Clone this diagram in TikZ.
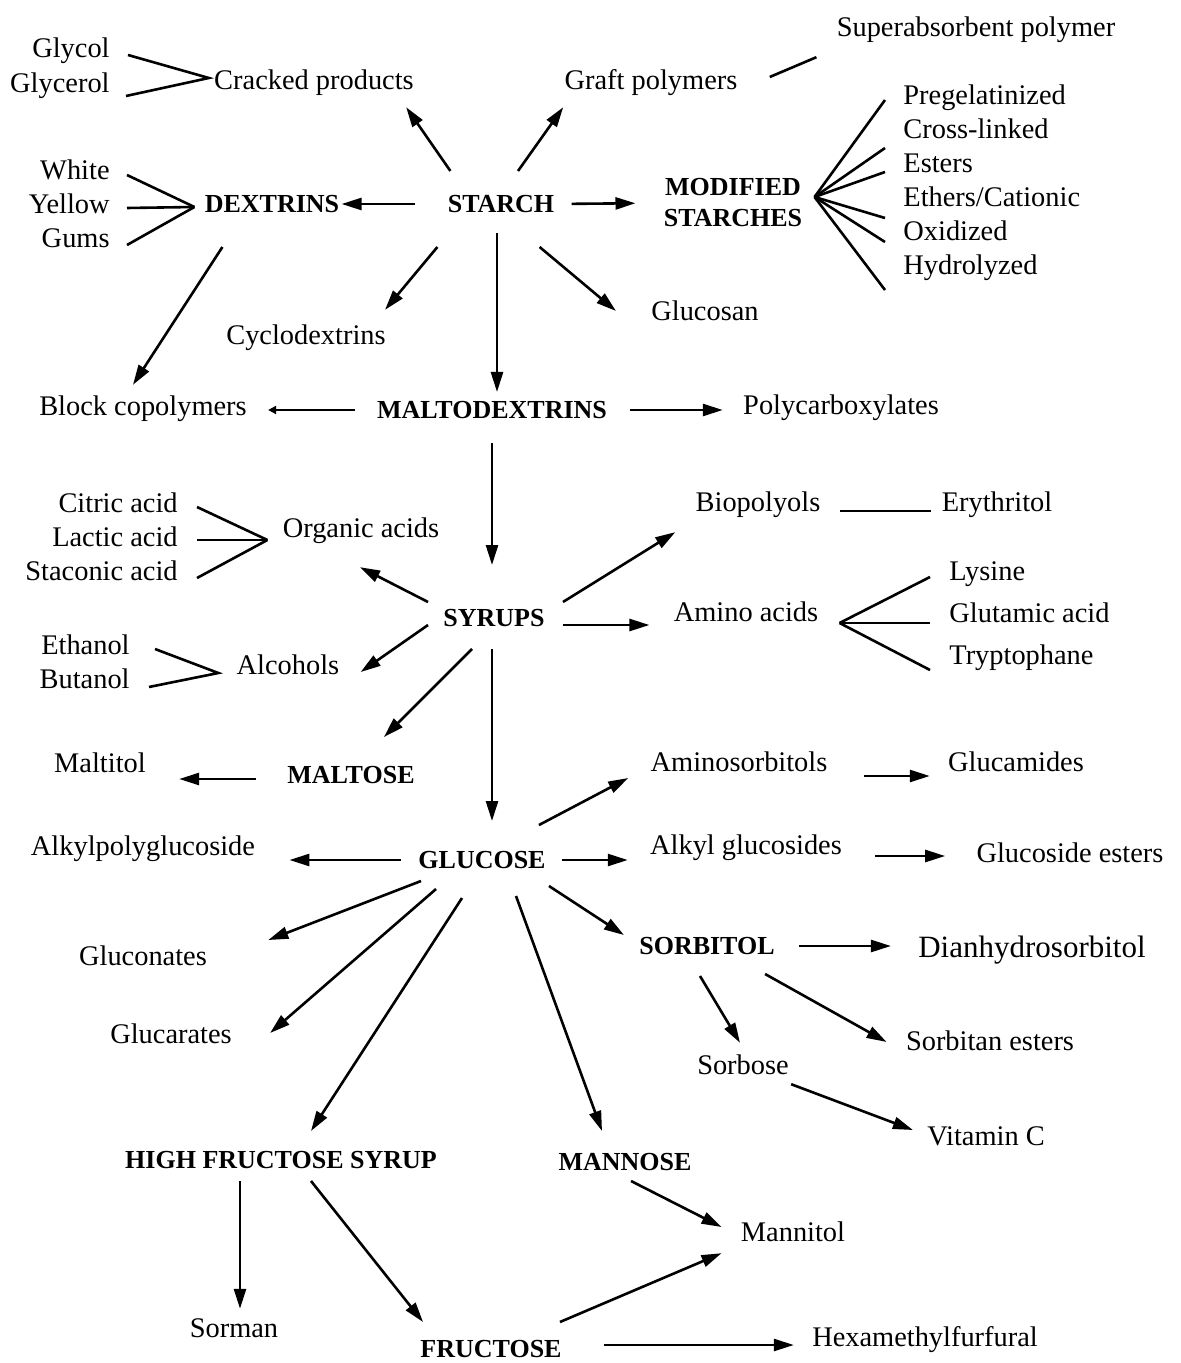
\documentclass[tikz,border=0pt]{standalone}
\usepackage{fontspec}
\setmainfont{Liberation Serif}
\usetikzlibrary{arrows.meta}

\begin{document}
\begin{tikzpicture}[x=0.5pt,y=-0.5pt,
  lbl/.style={font=\fontsize{14.2}{17}\selectfont,inner sep=0pt,text height=9.7pt,text depth=3.1pt,yshift=-1.5pt},
  big/.style={font=\fontsize{13}{15.5}\selectfont\bfseries,inner sep=0pt,text height=8.6pt,text depth=0pt},
  arr/.style={line width=1.3pt,-{Triangle[length=10pt,width=6pt]}},
  ln/.style={line width=1.3pt}]
\useasboundingbox (0,0) rectangle (1181,1363);
% starch and its products
\node[lbl,anchor=east] (glycol) at (110,48) {Glycol};
\node[lbl,anchor=east] (glycerol) at (110,83) {Glycerol};
\node[lbl] (cracked) at (314,80) {Cracked products};
\node[lbl] (graft) at (651,80) {Graft polymers};
\node[lbl] (superabs) at (976,27) {Superabsorbent polymer};
\node[lbl,anchor=east] (white) at (110,170) {White};
\node[lbl,anchor=east] (yellow) at (110,204) {Yellow};
\node[lbl,anchor=east] (gums) at (110,238) {Gums};
\node[big] (dextrins) at (272,204) {DEXTRINS};
\node[big] (starch) at (501,204) {STARCH};
\node[font=\fontsize{13}{15.5}\selectfont\bfseries,align=center,inner sep=0pt] (modified) at (733,203) {MODIFIED\\STARCHES};
\foreach \t [count=\i] in {Pregelatinized,Cross-linked,Esters,Ethers/Cationic,Oxidized,Hydrolyzed}
  \node[lbl,anchor=west] (mod\i) at (903,61+34*\i) {\t};
\node[lbl] (cyclo) at (306,335) {Cyclodextrins};
\node[lbl] (glucosan) at (705,311) {Glucosan};
\node[lbl] (block) at (143,406) {Block copolymers};
\node[big] (malto) at (492,410) {MALTODEXTRINS};
\node[lbl] (polycarb) at (841,405) {Polycarboxylates};
% syrups
\node[lbl,anchor=east] (citric) at (178,503) {Citric acid};
\node[lbl,anchor=east] (lactic) at (178,537) {Lactic acid};
\node[lbl,anchor=east] (staconic) at (178,571) {Staconic acid};
\node[lbl] (organic) at (361,528) {Organic acids};
\node[lbl] (biopolyols) at (758,502) {Biopolyols};
\node[lbl] (erythritol) at (997,502) {Erythritol};
\node[big] (syrups) at (494,618) {SYRUPS};
\node[lbl] (amino) at (746,612) {Amino acids};
\foreach \t [count=\i] in {Lysine,Glutamic acid,Tryptophane}
  \node[lbl,anchor=west] (amino\i) at (949,529+42*\i) {\t};
\node[lbl,anchor=east] (ethanol) at (130,645) {Ethanol};
\node[lbl,anchor=east] (butanol) at (130,679) {Butanol};
\node[lbl] (alcohols) at (288,665) {Alcohols};
\node[big] (maltose) at (351,775) {MALTOSE};
\node[lbl] (maltitol) at (100,763) {Maltitol};
% glucose
\node[lbl] (aminosorb) at (739,762) {Aminosorbitols};
\node[lbl] (glucamides) at (1016,762) {Glucamides};
\node[big] (glucose) at (482,860) {GLUCOSE};
\node[lbl] (alkylpoly) at (143,846) {Alkylpolyglucoside};
\node[lbl] (alkylglu) at (746,845) {Alkyl glucosides};
\node[lbl] (glucest) at (1070,853) {Glucoside esters};
\node[lbl] (gluconates) at (143,956) {Gluconates};
\node[big] (sorbitol) at (707,946) {SORBITOL};
\node[lbl,font=\fontsize{15.5}{18}\selectfont] (dianhydro) at (1032,948) {Dianhydrosorbitol};
\node[lbl] (glucarates) at (171,1034) {Glucarates};
\node[lbl] (sorbitan) at (990,1041) {Sorbitan esters};
\node[lbl] (sorbose) at (743,1065) {Sorbose};
\node[lbl] (vitc) at (986,1136) {Vitamin C};
\node[big] (hfs) at (281,1160) {HIGH FRUCTOSE SYRUP};
\node[big] (mannose) at (625,1162) {MANNOSE};
\node[lbl] (mannitol) at (793,1232) {Mannitol};
\node[lbl] (sorman) at (234,1328) {Sorman};
\node[big] (fructose) at (491,1349) {FRUCTOSE};
\node[lbl] (hexa) at (925,1337) {Hexamethylfurfural};

% fans
\coordinate (crackfan) at ([shift={(-5,-5)}]cracked.west);
\draw[ln] ([shift={(18,4)}]glycol.east) -- (crackfan) -- ([shift={(16,10)}]glycerol.east);
\coordinate (dexfan) at ([shift={(-10,3)}]dextrins.west);
\foreach \n/\dy in {white/2,yellow/1,gums/4}
  \draw[ln] ([shift={(17,\dy)}]\n.east) -- (dexfan);
\coordinate (modfan) at ([shift={(12,-6)}]modified.east);
\foreach \i/\dy in {1/2,2/16,3/6,4/18,5/8,6/22}
  \draw[ln] (modfan) -- ([shift={(-18,\dy)}]mod\i.west);
\coordinate (orgfan) at ([shift={(-15,9)}]organic.west);
\foreach \n/\dy in {citric/1,lactic/0,staconic/4}
  \draw[ln] ([shift={(19,\dy)}]\n.east) -- (orgfan);
\coordinate (alcfan) at ([shift={(-18,5)}]alcohols.west);
\draw[ln] ([shift={(25,1)}]ethanol.east) -- (alcfan) -- ([shift={(19,5)}]butanol.east);
\coordinate (aminofan) at ([shift={(21,8)}]amino.east);
\foreach \i/\dy in {1/3,2/7,3/12}
  \draw[ln] (aminofan) -- ([shift={(-19,\dy)}]amino\i.west);
\draw[ln] ([shift={(32,-6)}]graft.east) -- ([shift={(-20,14)}]superabs.south west);
\draw[ln,shorten <=9.5pt,shorten >=5pt] ([yshift=-3pt]biopolyols.east) -- ([yshift=-3pt]erythritol.west);

% arrows from starch
\draw[arr,shorten <=16pt,shorten >=1pt] (starch.west) -- (dextrins.east);
\draw[arr,shorten <=8.5pt,shorten >=14pt] (starch.east) -- (modified.west);
\draw[arr] ([shift={(3,-24)}]starch.north west) -- ([shift={(-8,11)}]cracked.south east);
\draw[arr] ([shift={(17,-24)}]starch.north) -- ([shift={(-1,11)}]graft.south west);
\draw[arr] ([shift={(-10,34)}]starch.south west) -- ([shift={(-1,-15)}]cyclo.north east);
\draw[arr] ([shift={(-15,34)}]starch.south east) -- ([shift={(-35,-3)}]glucosan.west);
\draw[arr,shorten <=10pt,shorten >=4.5pt] ([xshift=-2pt]starch.south) -- ([xshift=-2pt]starch.south |- malto.north);
\draw[arr] ([shift={(18,34)}]dextrins.south west) -- ([shift={(-10,-11)}]block.north);
% arrows from maltodextrins
\draw[line width=1.3pt,-{Triangle[length=4pt,width=4pt]},shorten <=11pt,shorten >=10.5pt] (malto.west) -- (malto.west -| block.east);
\draw[arr,shorten <=11.5pt,shorten >=10pt] (malto.east) -- (malto.east -| polycarb.west);
\draw[arr,shorten <=12pt,shorten >=22pt] (malto.south) -- (malto.south |- syrups.north);
% arrows from syrups
\draw[arr] ([shift={(-15,-16)}]syrups.west) -- ([shift={(-1,23)}]organic.south);
\draw[arr] ([shift={(-15,7)}]syrups.west) -- ([shift={(21,4)}]alcohols.east);
\draw[arr] ([shift={(18,-16)}]syrups.east) -- ([shift={(-20,14)}]biopolyols.south west);
\draw[arr,shorten <=9pt,shorten >=12pt] ([yshift=-3.5pt]syrups.east) -- ([yshift=-3.5pt]syrups.east -| amino.west);
\draw[arr] ([shift={(-22,22)}]syrups.south) -- ([shift={(-31,-29)}]maltose.north east);
\draw[arr,shorten <=11pt,shorten >=15pt] ([xshift=-1pt]syrups.south) -- ([xshift=-1pt]syrups.south |- glucose.north);
\draw[arr,shorten <=15.5pt,shorten >=16.5pt] ([yshift=-2pt]maltose.west) -- ([yshift=-2pt]maltose.west -| maltitol.east);
% arrows from glucose
\draw[arr] ([shift={(-7,-26)}]glucose.north east) -- ([shift={(-22,13)}]aminosorb.west);
\draw[arr,shorten <=18pt,shorten >=9pt] ([yshift=-5.5pt]aminosorb.east) -- ([yshift=-5.5pt]glucamides.west);
\draw[arr,shorten <=8pt,shorten >=11pt] (glucose.east) -- (glucose.east -| alkylglu.west);
\draw[arr,shorten <=16.5pt,shorten >=15.5pt] ([yshift=-4pt]alkylglu.east) -- ([yshift=-4pt]alkylglu.east -| glucest.west);
\draw[arr,shorten <=8.5pt,shorten >=17pt] (glucose.west) -- (glucose.west -| alkylpoly.east);
\draw[arr] ([shift={(3,12)}]glucose.south west) -- ([shift={(61,-19)}]gluconates.east);
\draw[arr] ([shift={(18,20)}]glucose.south west) -- ([shift={(38,-4)}]glucarates.east);
\draw[arr] ([shift={(-20,29)}]glucose.south) -- ([shift={(30,-20)}]hfs.north);
\draw[arr] ([shift={(34,27)}]glucose.south) -- ([shift={(-23,-22)}]mannose.north);
\draw[arr] ([shift={(3,17)}]glucose.south east) -- ([shift={(-15,-11)}]sorbitol.west);
% arrows from sorbitol
\draw[arr,shorten <=12pt,shorten >=13.5pt] (sorbitol.east) -- (sorbitol.east -| dianhydro.west);
\draw[arr] ([shift={(-7,21)}]sorbitol.south) -- ([shift={(-3,-12)}]sorbose.north);
\draw[arr] ([shift={(-10,19)}]sorbitol.south east) -- ([shift={(-19,-2)}]sorbitan.west);
\draw[arr] ([shift={(2,3)}]sorbose.south east) -- ([shift={(-14,-9)}]vitc.west);
% arrows to the bottom
\draw[arr,shorten <=6pt,shorten >=4.5pt] ([xshift=3pt]sorman.north |- hfs.south) -- ([xshift=3pt]sorman.north);
\draw[arr] ([shift={(30,12)}]hfs.south) -- ([shift={(3,-18)}]fructose.north west);
\draw[arr] ([shift={(6,10)}]mannose.south) -- ([shift={(-19,-8)}]mannitol.west);
\draw[arr] ([shift={(-2,-18)}]fructose.north east) -- ([shift={(-19,5)}]mannitol.south west);
\draw[arr,shorten <=21pt,shorten >=9pt] ([yshift=2pt]fructose.east) -- ([yshift=2pt]fructose.east -| hexa.west);
\end{tikzpicture}
\end{document}
